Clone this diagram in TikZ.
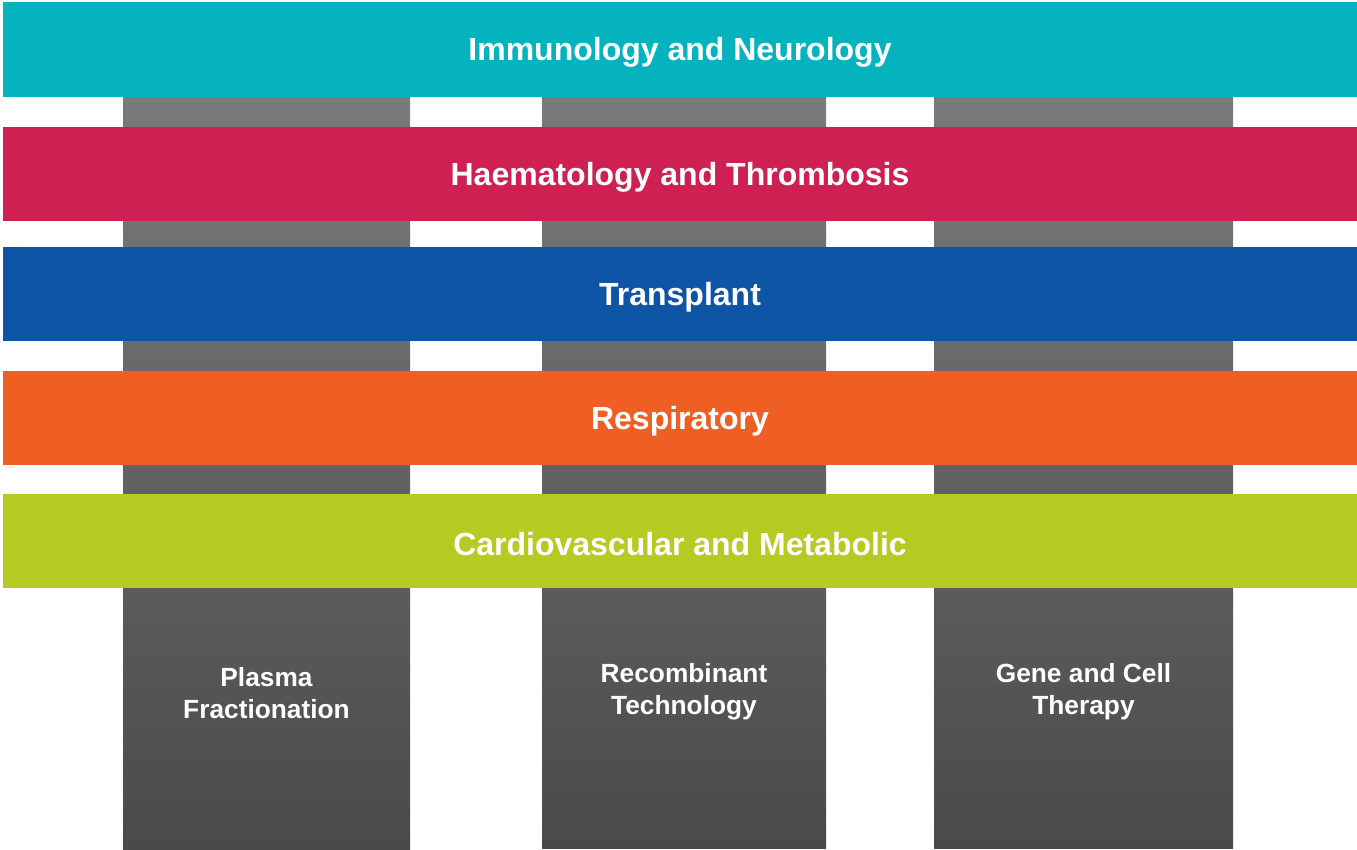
\documentclass[tikz,border=0pt]{standalone}
\usepackage{fontspec}
\setmainfont{Liberation Sans}
\begin{document}
\begin{tikzpicture}[x=1pt,y=-1pt,
  band/.style={fill=#1, draw=none},
  pillar/.style={top color=pilltop, bottom color=pillbot, draw=none},
  bandtext/.style={text=white, font=\fontsize{32}{38}\selectfont\bfseries, anchor=center},
  pilltext/.style={text=white, font=\fontsize{26.3}{32}\selectfont\bfseries, align=center, anchor=center}]
\definecolor{pilltop}{HTML}{808080}
\definecolor{pillbot}{HTML}{4A4A4A}
\definecolor{cteal}{HTML}{05B3BF}
\definecolor{ccrimson}{HTML}{CE2052}
\definecolor{cblue}{HTML}{0E55A5}
\definecolor{corange}{HTML}{EF5F24}
\definecolor{clime}{HTML}{B5CB22}
\useasboundingbox (0,0) rectangle (1357,850);
% technology pillars
\fill[pillar] (123,6) rectangle (410,850);
\fill[pillar] (542,6) rectangle (826,848);
\fill[pillar] (934,6) rectangle (1233,848);
\node[pilltext] (p1) at (266.5,693) {Plasma\\Fractionation};
\node[pilltext] (p2) at (684,692) {Recombinant\\Technology};
\node[pilltext] (p3) at (1083.5,692) {Gene and Cell\\Therapy};
% therapeutic area bands
\fill[band=cteal] (3,2) rectangle (1357,97);
\fill[band=ccrimson] (3,127) rectangle (1357,221);
\fill[band=cblue] (3,247) rectangle (1357,341);
\fill[band=corange] (3,371) rectangle (1357,465);
\fill[band=clime] (3,494) rectangle (1357,588);
\node[bandtext] (b1) at (680,52) {Immunology and Neurology};
\node[bandtext] (b2) at (680,177) {Haematology and Thrombosis};
\node[bandtext] (b3) at (680,297) {Transplant};
\node[bandtext] (b4) at (680,421) {Respiratory};
\node[bandtext] (b5) at (680,544) {Cardiovascular and Metabolic};
\end{tikzpicture}
\end{document}
